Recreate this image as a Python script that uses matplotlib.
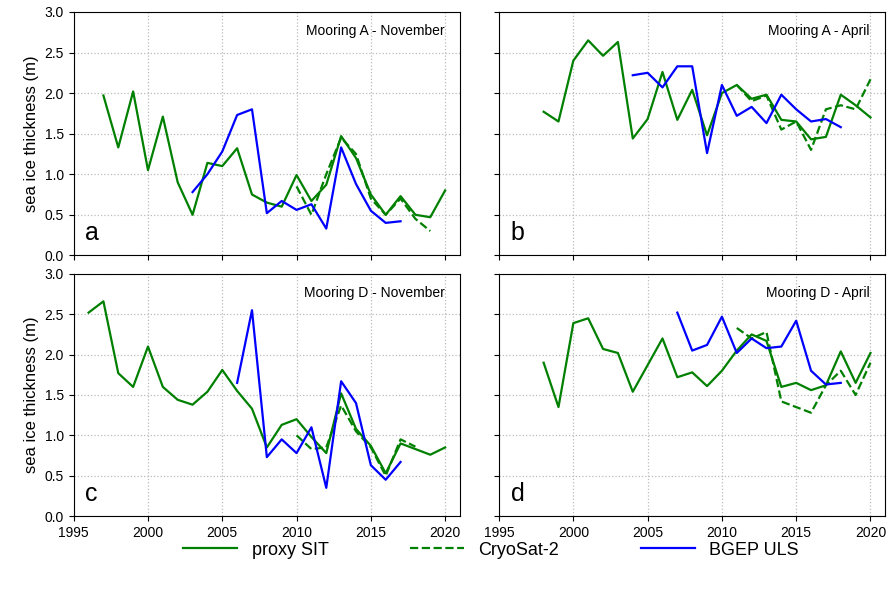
import numpy as np
import matplotlib.pyplot as plt

plt.rcParams['font.family'] = ['Liberation Sans', 'DejaVu Sans']

# panel a - Mooring A November
a_proxy_yr = np.arange(1997, 2021)
a_proxy = [1.97, 1.33, 2.02, 1.05, 1.71, 0.9, 0.5, 1.14, 1.1, 1.32, 0.75, 0.65, 0.6, 0.99, 0.67, 0.87, 1.47, 1.2, 0.75, 0.5, 0.73, 0.5, 0.47, 0.8]
a_cryo_yr = np.arange(2010, 2020)
a_cryo = [0.85, 0.5, 1.0, 1.45, 1.25, 0.7, 0.5, 0.7, 0.45, 0.3]
a_uls_yr = np.arange(2003, 2018)
a_uls = [0.78, 1.0, 1.28, 1.73, 1.8, 0.52, 0.67, 0.56, 0.63, 0.33, 1.33, 0.88, 0.55, 0.4, 0.42]

# panel b - Mooring A April
b_proxy_yr = np.arange(1998, 2021)
b_proxy = [1.77, 1.65, 2.4, 2.65, 2.46, 2.63, 1.44, 1.68, 2.26, 1.67, 2.04, 1.48, 2.0, 2.1, 1.93, 1.98, 1.67, 1.65, 1.43, 1.46, 1.98, 1.85, 1.7]
b_cryo_yr = np.arange(2011, 2021)
b_cryo = [2.1, 1.9, 1.97, 1.55, 1.65, 1.3, 1.8, 1.85, 1.8, 2.17]
b_uls_yr = np.arange(2004, 2019)
b_uls = [2.22, 2.25, 2.07, 2.33, 2.33, 1.26, 2.1, 1.72, 1.83, 1.63, 1.98, 1.8, 1.65, 1.68, 1.58]

# panel c - Mooring D November
c_proxy_yr = np.arange(1996, 2021)
c_proxy = [2.52, 2.66, 1.77, 1.6, 2.1, 1.6, 1.44, 1.38, 1.54, 1.81, 1.55, 1.33, 0.85, 1.13, 1.2, 0.98, 0.78, 1.52, 1.08, 0.87, 0.53, 0.9, 0.83, 0.76, 0.85]
c_cryo_yr = np.arange(2010, 2019)
c_cryo = [1.0, 0.83, 0.85, 1.37, 1.05, 0.85, 0.5, 0.95, 0.86]
c_uls_yr = np.arange(2006, 2018)
c_uls = [1.65, 2.55, 0.73, 0.95, 0.78, 1.1, 0.35, 1.67, 1.4, 0.63, 0.45, 0.67]

# panel d - Mooring D April
d_proxy_yr = np.arange(1998, 2021)
d_proxy = [1.9, 1.35, 2.39, 2.45, 2.07, 2.02, 1.54, 1.87, 2.2, 1.72, 1.78, 1.61, 1.8, 2.05, 2.25, 2.17, 1.6, 1.65, 1.56, 1.62, 2.04, 1.65, 2.02]
d_cryo_yr = np.arange(2011, 2021)
d_cryo = [2.33, 2.2, 2.28, 1.42, 1.35, 1.28, 1.62, 1.8, 1.5, 1.9]
d_uls_yr = np.arange(2007, 2019)
d_uls = [2.52, 2.05, 2.12, 2.47, 2.02, 2.2, 2.08, 2.1, 2.42, 1.8, 1.63, 1.65]

panels = [
    ('a', 'Mooring A - November', a_proxy_yr, a_proxy, a_cryo_yr, a_cryo, a_uls_yr, a_uls),
    ('b', 'Mooring A - April', b_proxy_yr, b_proxy, b_cryo_yr, b_cryo, b_uls_yr, b_uls),
    ('c', 'Mooring D - November', c_proxy_yr, c_proxy, c_cryo_yr, c_cryo, c_uls_yr, c_uls),
    ('d', 'Mooring D - April', d_proxy_yr, d_proxy, d_cryo_yr, d_cryo, d_uls_yr, d_uls),
]

fig = plt.figure(figsize=(8.88, 5.98), dpi=100)
boxes = [(0.083, 0.573, 0.435, 0.407), (0.562, 0.573, 0.435, 0.407),
         (0.083, 0.137, 0.435, 0.405), (0.562, 0.137, 0.435, 0.405)]
for i, (lab, title, py, pv, cy, cv, uy, uv) in enumerate(panels):
    ax = fig.add_axes(boxes[i])
    ax.plot(py, pv, color='green', lw=1.6, label='proxy SIT')
    ax.plot(cy, cv, color='green', lw=1.6, ls='--', label='CryoSat-2')
    ax.plot(uy, uv, color='blue', lw=1.6, label='BGEP ULS')
    ax.set_xlim(1995, 2021)
    ax.set_ylim(0, 3)
    ax.set_xticks(np.arange(1995, 2021, 5))
    ax.set_yticks(np.arange(0, 3.01, 0.5))
    ax.grid(True, ls=':', color='#bbbbbb', lw=0.9)
    ax.tick_params(labelsize=10)
    ax.text(0.96, 0.92, title, transform=ax.transAxes, ha='right', va='center', fontsize=10)
    ax.text(0.03, 0.09, lab, transform=ax.transAxes, ha='left', va='center', fontsize=18)
    if i in (0, 1):
        ax.set_xticklabels([])
    if i in (1, 3):
        ax.set_yticklabels([])
    else:
        ax.set_ylabel('sea ice thickness (m)', fontsize=12)
    if i == 0:
        handles, labels = ax.get_legend_handles_labels()

fig.legend(handles, labels, loc='center', bbox_to_anchor=(0.553, 0.08), ncol=3,
           frameon=False, fontsize=13, handlelength=3, columnspacing=4.5)
fig.savefig('out.png', dpi=100)
